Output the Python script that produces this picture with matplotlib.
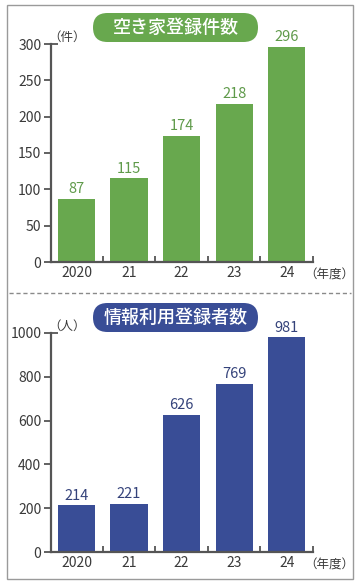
import matplotlib
matplotlib.use("Agg")
import matplotlib.pyplot as plt
from matplotlib.patches import FancyBboxPatch, Rectangle
from matplotlib.lines import Line2D

plt.rcParams['font.family'] = ['Noto Sans CJK JP', 'DejaVu Sans']

years = ["2020", "21", "22", "23", "24"]
vacant = [87, 115, 174, 218, 296]
users = [214, 221, 626, 769, 981]
title_top = "空き家登録件数"
title_bot = "情報利用登録者数"
unit_top = "（件）"
unit_bot = "（人）"
xunit = "（年度）"
yticks_top = [0, 50, 100, 150, 200, 250, 300]
yticks_bot = [0, 200, 400, 600, 800, 1000]

green = "#68a84e"
green_txt = "#5f9a4a"
blue = "#394d96"
blue_txt = "#34427a"
axcol = "#555555"
txtcol = "#3a3a3a"

fig = plt.figure(figsize=(3.6, 5.85), dpi=100)

# overlay in pixel coordinates for frame, separator and title pills
ov = fig.add_axes([0, 0, 1, 1], zorder=5)
ov.set_xlim(0, 360)
ov.set_ylim(585, 0)
ov.axis("off")
ov.patch.set_alpha(0)
ov.add_patch(Rectangle((7, 5), 346, 574, fill=False, edgecolor="#9a9a9a", linewidth=1.0))
ov.plot([9, 351], [293, 293], color="#8a8a8a", linewidth=1.0, linestyle=(0, (3, 2)))


def panel(rect, vals, color, txtc, ticks, ymax, title, unit, pillcol, pill_y):
    ax = fig.add_axes(rect)
    x = list(range(len(vals)))
    ax.bar(x, vals, width=0.71, color=color, zorder=2)
    ax.set_xlim(-0.485, 4.5)
    ax.set_ylim(0, ymax)
    for s in ["top", "right"]:
        ax.spines[s].set_visible(False)
    for s in ["left", "bottom"]:
        ax.spines[s].set_color(axcol)
        ax.spines[s].set_linewidth(1.6)
    ax.set_yticks(ticks)
    ax.set_yticklabels([str(t) for t in ticks])
    ax.tick_params(axis="y", direction="out", length=5, width=1.3, color=axcol,
                   labelsize=10, labelcolor=txtcol, pad=2)
    ax.set_xticks(x)
    ax.set_xticklabels(years)
    ax.tick_params(axis="x", length=0, labelsize=10, labelcolor=txtcol, pad=3)
    ax.set_xticks([0.5, 1.5, 2.5, 3.5, 4.5], minor=True)
    ax.tick_params(axis="x", which="minor", direction="in", length=4, width=1.3, color=axcol)
    ax.plot([0, 0.025], [1, 1], transform=ax.transAxes, color=axcol, lw=1.3, clip_on=False,
            solid_capstyle="butt")
    for xi, v in zip(x, vals):
        ax.text(xi, v + ymax*0.012, str(v), ha="center", va="bottom", fontsize=10.5, color=txtc)
    ax.text(-0.01, 1.0, unit, transform=ax.transAxes, ha="left", va="bottom",
            fontsize=9, color=txtcol)
    ax.text(0.965, -0.058, xunit, transform=ax.transAxes, ha="left", va="center",
            fontsize=9, color=txtcol)
    # pill title
    pw, ph, px = 165, 29, 93
    ov.add_patch(FancyBboxPatch((px, pill_y), pw, ph,
                                boxstyle="round,pad=0,rounding_size=14.5",
                                facecolor=pillcol, edgecolor="none"))
    ov.text(px + pw/2, pill_y + ph/2 + 0.5, title, ha="center", va="center", color="white",
            fontsize=13, fontweight="medium")
    return ax


panel([51/360, 1-262/585, 262/360, 218/585], vacant, green, green_txt, yticks_top, 300,
      title_top, unit_top, green, 13)
panel([51/360, 1-552/585, 262/360, 219/585], users, blue, blue_txt, yticks_bot, 1000,
      title_bot, unit_bot, blue, 303)

fig.savefig("out.png", dpi=100)
